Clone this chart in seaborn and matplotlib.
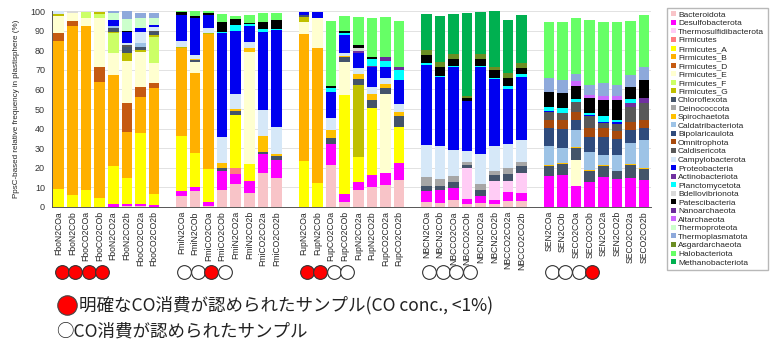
import numpy as np
import matplotlib
matplotlib.use("Agg")
import matplotlib.pyplot as plt
import matplotlib.transforms as mtrans
from matplotlib.lines import Line2D
from matplotlib.patches import Patch
import seaborn as sns

# sample names, 5 sites x 8 incubations
sites = ["Fbo", "Fmi", "Fup", "NBC", "SE"]
conds = ["N2COa", "N2COb", "CO2COa", "CO2COb", "N2CO2a", "N2CO2b", "CO2CO2a", "CO2CO2b"]
samples = [s + c for s in sites for c in conds]

# CO consumption marks under the first bars of each site (R = clear, O = consumed)
co_marks = ["R", "R", "R", "R", "", "", "", "",
            "O", "O", "R", "O", "", "", "", "",
            "R", "R", "O", "O", "", "", "", "",
            "O", "O", "O", "O", "", "", "", "",
            "O", "O", "O", "R", "", "", "", ""]

# relative frequency (%) per taxon, order: Fbo x8, Fmi x8, Fup x8, NBC x8, SE x8
bacteroidota = [0, 0, 0, 0, 0, 0.5, 0.5, 0,  5.5, 8.3, 0.5, 8.6, 11.7, 7.1, 17.3, 14.8,
                0, 0, 21.5, 2.7, 8.7, 10.3, 11.4, 13.9,  2.3, 2, 3.7, 1.7, 2, 1.7, 2.9, 2.9,
                0, 0, 0, 0, 0, 0, 0, 0]
desulfobacterota = [0, 0, 0, 0, 1.4, 1.2, 1, 1,  2.5, 1.7, 2, 9.9, 5.1, 6.4, 10, 9.3,
                    0, 0, 10.7, 3.7, 4.2, 6, 6.2, 8.5,  5.7, 6.5, 6, 2.5, 3.8, 2, 4.6, 4.2,
                    15.6, 16.5, 10.5, 13, 15.3, 14.3, 14.8, 14]
thermosulfidibacterota = [0, 0, 0, 0, 0, 0, 0, 0,  0, 0, 0, 0, 0, 0, 0, 0,
                          0, 0, 0, 0, 0, 0, 0, 0,  0, 0, 0, 15.7, 0, 9.7, 5.6, 10.2,
                          0, 0, 0, 0, 0, 0, 0, 0]
firmicutes = [0, 0, 0, 0, 0, 0, 0, 0,  0, 0, 0, 0, 3.1, 0, 0, 0,
              0, 0, 0, 0, 0, 0, 0, 0,  0, 0, 0, 0, 0, 0, 0, 0,
              0, 0, 0, 0, 0, 0, 0, 0]
firmicutes_a = [9.3, 6, 8.7, 4.8, 19.6, 13.1, 36.5, 5.4,  28, 17.8, 16.9, 0, 27.1, 8.4, 0, 0,
                23.7, 12.2, 0, 50.5, 12.7, 34.4, 0, 18.4,  0, 0, 0, 0, 0, 0, 0, 0,
                0, 0, 0, 0, 0, 0, 0, 0]
firmicutes_b = [75.4, 86.5, 83.8, 58.9, 46.6, 23.7, 18.3, 54.2,  45, 40.8, 68.7, 0, 0, 0, 0, 0,
                64.4, 69.1, 0, 0, 0, 0, 0, 0,  0, 0, 0, 0, 0, 0, 0, 0,
                0, 0, 0, 0, 0, 0, 0, 0]
firmicutes_d = [3.9, 2.4, 0, 7.5, 0, 14.5, 4.8, 2.6,  0, 0, 0, 0, 0, 0, 0, 0,
                0, 0, 0, 0, 0, 0, 0, 0,  0, 0, 0, 0, 0, 0, 0, 0,
                0, 0, 0, 0, 0, 0, 0, 0]
firmicutes_e = [8.8, 3.9, 4.1, 25.4, 11, 21.6, 18.2, 10.2,  0, 5.6, 0, 0, 0, 57.4, 0, 0,
                6.5, 15.3, 0, 17, 0, 0, 40.1, 0,  0, 0, 0, 0, 0, 0, 0, 0,
                0, 0, 13.6, 0, 0, 0, 0, 0]
firmicutes_f = [0, 0, 2.7, 1.7, 10, 0, 0, 13.5,  0, 0, 0, 0, 0, 0, 0, 0,
                0, 0, 0, 0, 0, 0, 0, 0,  0, 0, 0, 0, 0, 0, 0, 0,
                0, 0, 0, 0, 0, 0, 0, 0]
firmicutes_g = [0.9, 0, 0, 1.4, 0.8, 4, 0.8, 0.8,  0.5, 0, 0.9, 0, 0, 0, 0, 0,
                2.5, 0, 0, 0, 36.7, 0, 0, 0,  0, 0, 0, 0, 0, 0, 0, 0,
                0, 0, 0, 0, 0, 0, 0, 0]
chloroflexota = [0, 0, 0, 0, 1.7, 2.8, 1.7, 1.7,  0, 0.8, 0, 1.5, 2, 0, 1, 1.7,
                 0.9, 0, 2.9, 2.4, 3.1, 3.9, 2.9, 5.4,  2.5, 2, 2.9, 1.7, 2.7, 2.7, 3.9, 3.4,
                 5.4, 5.6, 5.9, 5.6, 5.4, 4.3, 6.8, 5.4]
deinococcota = [0, 0, 0, 0, 0, 0, 0, 0,  0, 0, 0, 0, 0, 0, 0, 0,
                0, 0, 0, 0, 0, 0, 0, 0,  4.8, 3.9, 3, 1.4, 3.4, 2.5, 2.9, 2.5,
                0, 0, 0, 0, 0, 0, 0, 0]
spirochaetota = [0, 0, 0, 0, 0, 0, 0, 0,  0, 0.5, 0, 2.6, 1, 2, 7.7, 1.2,
                 0, 0, 4.2, 0.8, 2.3, 2.9, 2.2, 2.5,  0, 0, 0, 0, 0, 0, 0, 0,
                 0.5, 0.5, 0.6, 0.5, 0.5, 0, 0.5, 0.5]
caldatribacteriota = [0, 0, 0, 0, 1.4, 0, 1.7, 0,  0, 0, 0, 0, 0, 0, 0, 0,
                      0, 0, 0, 0, 0, 0, 0, 0,  0, 0, 0, 0, 0, 0, 0, 0,
                      9.4, 7.5, 8.5, 9.2, 5.4, 8, 10.5, 14.4]
bipolaricaulota = [0, 0, 0, 0, 0, 0, 0, 0,  0, 0, 0, 0, 0, 0, 0, 0,
                   0, 0, 0, 0, 0, 0, 0, 0,  0, 0, 0, 0, 0, 0, 0, 0,
                   9.3, 9.6, 5.1, 7.3, 9, 8, 6.8, 5.9]
omnitrophota = [0, 0, 0, 0, 0, 0, 0, 0,  0, 0, 0, 0, 0, 0, 0, 0,
                0, 0, 0, 0, 0, 0, 0, 0,  0, 0, 0, 0, 0, 0, 0, 0,
                4.2, 4.7, 4.2, 4.6, 4.6, 4.4, 4.2, 4.2]
caldisericota = [0, 0, 0, 0, 0, 1.2, 0, 0.6,  0, 0, 0, 0, 0, 0, 0, 0,
                 0, 0, 0, 0, 0, 0, 0, 0,  0, 0, 0, 0, 0, 0, 0, 0,
                 4.3, 3.4, 5.1, 6, 2.6, 3.4, 7.3, 8.6]
campylobacterota = [1.7, 0, 0, 0, 0, 0.9, 6, 2,  3.2, 2.3, 2.5, 12.9, 7.6, 2.7, 13.6, 14,
                    0, 0, 6, 1.4, 3.1, 3.9, 2.9, 4,  16.4, 16.8, 13.6, 5.8, 15.3, 12.6, 12.4, 11.1,
                    0, 0, 0, 0, 0, 0, 0, 0]
proteobacteria = [0, 0, 0, 0, 2.9, 5.9, 1.6, 0.9,  13.3, 18.5, 6.5, 53.1, 32.2, 8.4, 39.9, 49.3,
                  1.4, 2.7, 13.3, 9.3, 7.6, 10.2, 5.9, 12.2,  40.8, 35, 42.3, 25.5, 44.3, 34, 27.8, 32.2,
                  0.5, 0, 0, 0.6, 0.8, 1.2, 0, 0]
actinobacteriota = [0, 0, 0, 0, 0, 0, 0, 0,  0, 0, 0, 0, 0, 0, 0, 0,
                    0, 0, 0, 0, 1.1, 0.5, 0, 0,  0, 0, 0, 0, 0, 0, 0, 0,
                    0, 0, 0, 0, 0, 0, 2.4, 2.5]
planctomycetota = [0, 0, 0, 0, 0, 0, 0, 0,  0, 0, 0, 0.8, 3.1, 1.2, 1.5, 0.7,
                   0, 0, 2, 1, 0, 3.3, 3.1, 5,  0.8, 0.7, 0.5, 0, 0.5, 0.8, 1.7, 1.4,
                   1.8, 2.6, 1.7, 1, 2.6, 0.8, 2, 0]
bdellovibrionota = [0, 1.2, 0, 0, 0, 0, 0, 0,  0, 0, 0, 0, 0, 0, 0, 0,
                    0, 0, 0, 0, 1.7, 0, 0, 0,  0, 0, 0, 0, 0, 0, 0, 0,
                    0, 0, 0, 0, 0, 0, 0, 0]
patescibacteria = [0, 0, 0, 0, 0, 0.6, 0, 0,  1.5, 1.2, 1, 5.1, 3.1, 0.5, 3.6, 4.4,
                   0, 0, 1.2, 1.2, 1.7, 1.3, 0, 0,  4.3, 4.7, 3.4, 1.2, 3.4, 4, 3.9, 2.9,
                   7.9, 7.6, 6.8, 7.7, 8.4, 10.2, 5.8, 9.3]
nanoarchaeota = [0, 0, 0, 0, 0, 0, 0, 0,  0, 0, 0, 0, 0, 0, 0, 0,
                 0, 0, 0, 0, 0, 0, 1.7, 1.7,  0, 0, 0, 0, 0, 0, 0, 0,
                 0, 0, 0, 0, 0, 0, 0, 0]
altarchaeota = [0, 0, 0, 0, 0, 0, 0, 0,  0, 0, 0, 0, 0, 0, 0, 0,
                0, 0, 0, 0, 0, 0, 0, 0,  0, 0, 0, 0, 0, 0, 0, 0,
                0, 0, 2.1, 1.7, 1.8, 1.8, 0, 0]
thermoproteota = [0, 0, 0, 0, 3.4, 5.9, 5.2, 3.4,  0, 0, 0, 0, 0, 0, 0, 0,
                  0, 0, 0, 0, 0, 0, 0, 0,  0, 0, 0, 0, 0, 0, 0, 0,
                  0, 0, 0, 0, 0, 0, 0, 0]
thermoplasmatota = [0, 0, 0, 0, 1.2, 3.9, 2.8, 2.8,  0, 0, 0, 0, 0, 0, 0, 0,
                    0, 0, 0, 0, 0, 0, 0, 0,  0, 0, 0, 0, 0, 0, 0, 0,
                    6.8, 7, 3.9, 5.1, 6.8, 5.9, 6.3, 6.8]
asgardarchaeota = [0, 0, 0, 0, 0, 0, 0, 0,  0, 0, 0, 0, 0, 0, 0, 0,
                   0, 0, 0, 0, 0, 0, 0, 0,  2.6, 2.6, 2.7, 1.2, 2.7, 1.3, 2.9, 2.5,
                   0, 0, 0, 0, 0, 0, 0, 0]
halobacteriota = [0, 0, 0, 0, 0, 0, 0, 0,  0.5, 2.5, 1, 3.8, 1.7, 3.8, 4.2, 3.4,
                  0, 0, 33.1, 7.6, 14.2, 19.9, 20.4, 23.4,  0, 0, 0, 0, 0, 0, 0, 0,
                  28.9, 29.6, 28.3, 33.1, 31.4, 32.3, 27.7, 26.4]
methanobacteriota = [0, 0, 0, 0, 0, 0, 0, 0,  0, 0, 0, 0, 0, 0, 0, 0,
                     0, 0, 0, 0, 0, 0, 0, 0,  18.3, 23.3, 20.4, 42.1, 21.6, 28.7, 26.8, 24.7,
                     0, 0, 0, 0, 0, 0, 0, 0]

taxa = [
    ("Bacteroidota", bacteroidota, "#F8C4C8"),
    ("Desulfobacterota", desulfobacterota, "#FF00FF"),
    ("Thermosulfidibacterota", thermosulfidibacterota, "#FFCCF5"),
    ("Firmicutes", firmicutes, "#FF7C80"),
    ("Firmicutes_A", firmicutes_a, "#FFFF00"),
    ("Firmicutes_B", firmicutes_b, "#FFB000"),
    ("Firmicutes_D", firmicutes_d, "#C55A11"),
    ("Firmicutes_E", firmicutes_e, "#FFFFD0"),
    ("Firmicutes_F", firmicutes_f, "#CCFF66"),
    ("Firmicutes_G", firmicutes_g, "#BFBF00"),
    ("Chloroflexota", chloroflexota, "#44546A"),
    ("Deinococcota", deinococcota, "#A6A6A6"),
    ("Spirochaetota", spirochaetota, "#FFC000"),
    ("Caldatribacteriota", caldatribacteriota, "#9DC3E6"),
    ("Bipolaricaulota", bipolaricaulota, "#2F4B7C"),
    ("Omnitrophota", omnitrophota, "#A84A0C"),
    ("Caldisericota", caldisericota, "#595959"),
    ("Campylobacterota", campylobacterota, "#D6E8F8"),
    ("Proteobacteria", proteobacteria, "#0000F0"),
    ("Actinobacteriota", actinobacteriota, "#7030A0"),
    ("Planctomycetota", planctomycetota, "#00FFFF"),
    ("Bdellovibrionota", bdellovibrionota, "#D9D9D9"),
    ("Patescibacteria", patescibacteria, "#000000"),
    ("Nanoarchaeota", nanoarchaeota, "#6A2C9A"),
    ("Altarchaeota", altarchaeota, "#CC66FF"),
    ("Thermoproteota", thermoproteota, "#CCFFCC"),
    ("Thermoplasmatota", thermoplasmatota, "#8EA9DB"),
    ("Asgardarchaeota", asgardarchaeota, "#6B8E23"),
    ("Halobacteriota", halobacteriota, "#66FF66"),
    ("Methanobacteriota", methanobacteriota, "#00B050"),
]

# bar slots with one empty slot between sites
pos = np.array([g * 9 + i for g in range(5) for i in range(8)], dtype=float)

sns.set_style("white")
plt.rcParams["font.family"] = ["Liberation Sans", "Noto Sans CJK JP"]

fig = plt.figure(figsize=(7.84, 3.45), dpi=100)
ax = fig.add_axes([0.0663, 0.40, 0.764, 0.568])

bottom = np.zeros(len(samples))
for name, vals, col in taxa:
    vals = np.array(vals, dtype=float)
    sns.barplot(x=pos, y=vals, bottom=bottom, color=col, saturation=1,
                native_scale=True, width=0.78, errorbar=None,
                edgecolor="none", linewidth=0, ax=ax)
    bottom += vals

ax.set_xlim(-0.5, 43.5)
ax.set_ylim(0, 100)
ax.set_yticks(np.arange(0, 101, 10))
ax.set_yticks(np.arange(0, 101, 5), minor=True)
ax.tick_params(axis="y", labelsize=6.5, length=3, width=0.6, colors="#333333", pad=2)
ax.tick_params(axis="y", which="minor", length=2, width=0.5, colors="#333333")
ax.set_xticks(pos)
ax.set_xticklabels(samples, rotation=90, fontsize=6.2)
ax.tick_params(axis="x", length=0, pad=3)
ax.set_xticks(np.arange(-0.5, 44, 1), minor=True)
ax.tick_params(axis="x", which="minor", length=3, width=0.5, colors="#555555")
ax.yaxis.grid(True, color="#DDDDDD", linewidth=0.6)
ax.set_axisbelow(True)
for side in ["top", "right"]:
    ax.spines[side].set_visible(False)
for side in ["left", "bottom"]:
    ax.spines[side].set_color("#555555")
    ax.spines[side].set_linewidth(0.7)
ax.set_xlabel("")
ax.set_ylabel("PpsC-based relative frequency in plastisphere (%)", fontsize=5.8, labelpad=7)

# CO consumption circles below the labels
trans = mtrans.blended_transform_factory(ax.transData, ax.transAxes)
for x, m in zip(pos, co_marks):
    if m:
        ax.scatter([x + 0.2], [-0.33], s=98, marker="o",
                   facecolor="#FF0000" if m == "R" else "white",
                   edgecolor="#333333", linewidth=0.8, transform=trans, clip_on=False)

handles = [Patch(facecolor=c, edgecolor="none", label=n) for n, _, c in taxa]
fig.legend(handles=handles, loc="upper left", bbox_to_anchor=(0.851, 0.978),
           fontsize=6.0, frameon=True, fancybox=False, edgecolor="#A6A6A6",
           handlelength=0.55, handleheight=0.55, handletextpad=0.3,
           labelspacing=0.13, borderpad=0.45, borderaxespad=0)

# notes at the bottom
fig.add_artist(Line2D([67 / 784], [1 - 305 / 345], marker="o", markersize=14,
                      markerfacecolor="#FF0000", markeredgecolor="#444444",
                      markeredgewidth=0.8, transform=fig.transFigure))
fig.text(79 / 784, 1 - 305 / 345, "明確なCO消費が認められたサンプル(CO conc., <1%)",
         fontsize=12.6, va="center", ha="left", color="#222222",
         family=["Noto Sans CJK JP", "DejaVu Sans"])
fig.text(56 / 784, 1 - 331 / 345, "○CO消費が認められたサンプル",
         fontsize=12.6, va="center", ha="left", color="#222222",
         family=["Noto Sans CJK JP", "DejaVu Sans"])

fig.savefig("out.png", dpi=100)
